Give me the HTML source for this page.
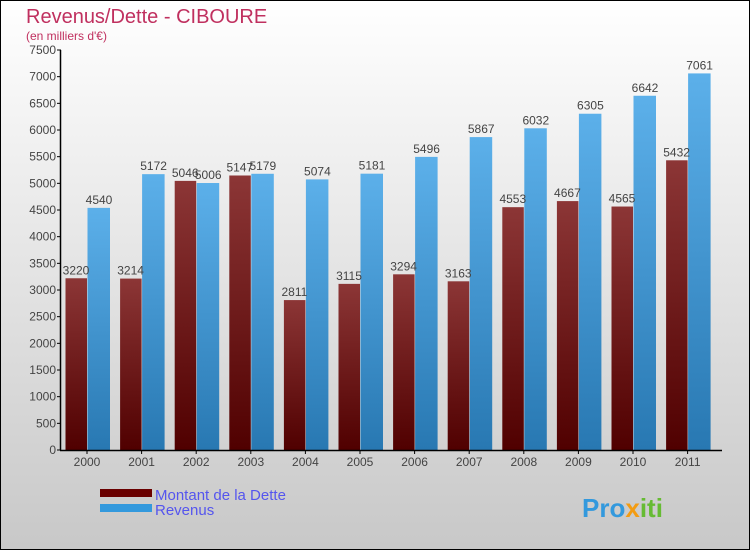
<!DOCTYPE html>
<html><head><meta charset="utf-8"><style>
body{margin:0}
svg{display:block;font-family:"Liberation Sans",sans-serif}
</style></head><body>
<svg id="c" width="750" height="550">
<defs>
<linearGradient id="bg" x1="0" y1="0" x2="0" y2="1"><stop offset="0" stop-color="#ffffff"/><stop offset="1" stop-color="#c8c8c8"/></linearGradient>
<linearGradient id="gd" x1="0" y1="0" x2="0" y2="1"><stop offset="0" stop-color="#8c3636"/><stop offset="1" stop-color="#500000"/></linearGradient>
<linearGradient id="gr" x1="0" y1="0" x2="0" y2="1"><stop offset="0" stop-color="#5cb0ea"/><stop offset="1" stop-color="#2878b2"/></linearGradient>
</defs>
<rect x="0.5" y="0.5" width="749" height="549" fill="url(#bg)" stroke="#000"/>
<text x="26" y="23" font-size="20" fill="#c0305f">Revenus/Dette - CIBOURE</text>
<text x="26" y="40" font-size="12" fill="#c0305f">(en milliers d'€)</text>
<g id="plot"></g>
<rect x="100" y="489" width="52" height="8" fill="#6a0000"/>
<text x="155" y="500" font-size="15" fill="#5555ee">Montant de la Dette</text>
<rect x="100" y="504" width="52" height="8" fill="#3399dd"/>
<text x="155" y="515" font-size="15" fill="#5555ee">Revenus</text>
<text x="582" y="517" font-size="26" font-weight="bold" fill="#3399dd">Pro<tspan fill="#f39c12">x</tspan><tspan fill="#66bb33">iti</tspan></text>
</svg>
<script>
const years=["2000","2001","2002","2003","2004","2005","2006","2007","2008","2009","2010","2011"];
const dette=[3220,3214,5046,5147,2811,3115,3294,3163,4553,4667,4565,5432];
const revenus=[4540,5172,5006,5179,5074,5181,5496,5867,6032,6305,6642,7061];
const yTicks=[0,500,1000,1500,2000,2500,3000,3500,4000,4500,5000,5500,6000,6500,7000,7500];
const NS="http://www.w3.org/2000/svg";
const g=document.getElementById('plot');
const y0=450,yTop=50,yMax=7500;
const Y=v=>y0-(v/yMax)*(y0-yTop);
const X=i=>87+54.6*i;
function mk(t,a,txt){const e=document.createElementNS(NS,t);for(const k in a)e.setAttribute(k,a[k]);if(txt!==undefined)e.textContent=txt;g.appendChild(e);return e;}
years.forEach((yr,i)=>{
 const c=X(i);
 let r=mk('rect',{x:c-21.5,y:Y(dette[i]),width:21.5,height:y0-Y(dette[i]),fill:'url(#gd)'});
 
 
 r=mk('rect',{x:c+0.5,y:Y(revenus[i]),width:22.5,height:y0-Y(revenus[i]),fill:'url(#gr)'});
 
 
 let t=mk('text',{x:c-11,y:Y(dette[i])-4,'font-size':12,fill:'#444','text-anchor':'middle'},dette[i]);
 
 
 t=mk('text',{x:c+12,y:Y(revenus[i])-4,'font-size':12,fill:'#444','text-anchor':'middle'},revenus[i]);
 
 
 t=mk('text',{x:c,y:466,'font-size':12,fill:'#444','text-anchor':'middle'},yr);
 
 
 const tk=mk('line',{x1:c,x2:c,y1:450,y2:454,stroke:'#000'});
 
 
});
yTicks.forEach(v=>{
 const l=mk('line',{x1:57,x2:61,y1:Y(v),y2:Y(v),stroke:'#000'});
 
 
 const t=mk('text',{x:56,y:Y(v)+4,'font-size':12,fill:'#444','text-anchor':'end'},v);
 
 
});
let ax=mk('line',{x1:60.5,x2:60.5,y1:50,y2:450.5,stroke:'#000','stroke-width':1.5});


ax=mk('line',{x1:60,x2:722,y1:450.5,y2:450.5,stroke:'#000','stroke-width':1.5});


</script>
</body></html>
